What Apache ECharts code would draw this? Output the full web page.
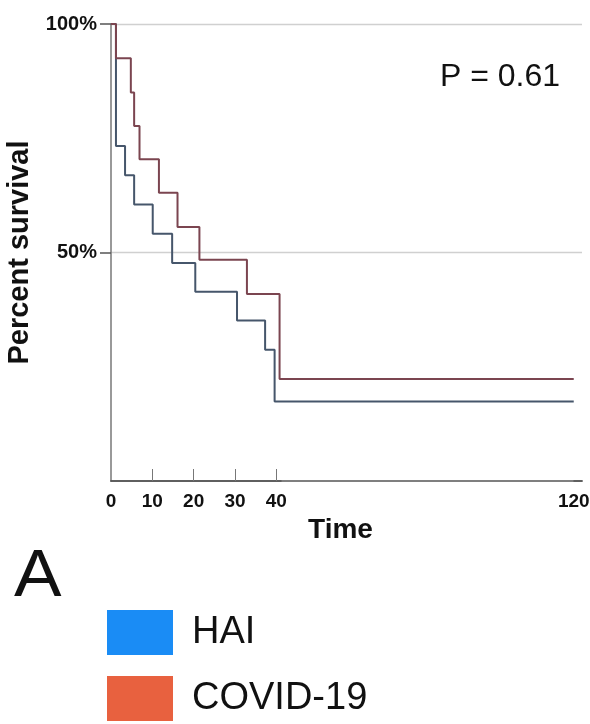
<!DOCTYPE html>
<html>
<head>
<meta charset="utf-8">
<script src="https://cdn.jsdelivr.net/npm/echarts@6.0.0/dist/echarts.min.js"></script>
<style>
  html, body { margin: 0; padding: 0; background: #fff; }
  #chart { width: 590px; height: 724px; }
</style>
</head>
<body>
<div id="chart"></div>
<script>
// survival curves (time, percent survival)
const haiTime = [0, 1.2, 3.4, 5.6, 10.1, 14.8, 20.4, 30.5, 37.3, 39.6, 120];
const haiSurv = [100, 73.3, 66.9, 60.5, 54.1, 47.7, 41.4, 35.1, 28.7, 17.4, 17.4];
const covidTime = [0, 1.2, 4.8, 5.6, 6.9, 11.6, 16.1, 21.4, 32.9, 40.8, 120];
const covidSurv = [100, 92.5, 85.0, 77.7, 70.4, 63.1, 55.6, 48.4, 40.9, 22.3, 22.3];

const xLabels = [0, 10, 20, 30, 40, 120];
const xTicks = [10, 20, 30, 40];
const yTicks = [50, 100];

const pair = (t, s) => t.map((v, i) => [v, s[i]]);

const chart = echarts.init(document.getElementById('chart'));

const option = {
  backgroundColor: '#fff',
  animation: false,
  grid: { left: 111, right: 8, top: 24, bottom: 243, outerBoundsMode: 'none' },
  legend: {
    orient: 'vertical',
    left: 107,
    top: 610,
    height: 160,
    padding: 0,
    icon: 'rect',
    itemWidth: 66,
    itemHeight: 45,
    itemGap: 21,
    textStyle: {
      fontFamily: 'Liberation Sans',
      fontSize: 38,
      color: '#111',
      padding: [0, 0, 0, 14]
    },
    data: [
      { name: 'HAI', itemStyle: { color: '#1a8cf5' } },
      { name: 'COVID-19', itemStyle: { color: '#e8613f' } }
    ]
  },
  xAxis: [
    {
      type: 'value',
      min: 0,
      max: 122,
      breaks: [{ start: 41, end: 120, gap: 71 }],
      breakArea: { show: false },
      name: 'Time',
      nameLocation: 'middle',
      nameGap: 31,
      nameTextStyle: {
        fontFamily: 'Liberation Sans', fontSize: 28, fontWeight: 'bold', color: '#111',
        padding: [0, 12, 0, 0]
      },
      axisLine: { lineStyle: { color: '#555', width: 1.5 } },
      axisTick: { inside: true, length: 12, customValues: xTicks, lineStyle: { color: '#777' } },
      axisLabel: {
        customValues: xLabels,
        margin: 11,
        fontFamily: 'Liberation Sans',
        fontSize: 19,
        fontWeight: 'bold',
        color: '#111'
      },
      splitLine: { show: false }
    },
    {
      // plain axis line drawn straight through the break
      type: 'value',
      min: 0,
      max: 1,
      position: 'bottom',
      axisLine: { show: true, onZero: false, lineStyle: { color: '#555', width: 1.5 } },
      axisTick: { show: false },
      axisLabel: { show: false },
      splitLine: { show: false }
    }
  ],
  yAxis: {
    type: 'value',
    min: 0,
    max: 100,
    interval: 50,
    name: 'Percent survival',
    nameLocation: 'middle',
    nameGap: 77,
    nameTextStyle: { fontFamily: 'Liberation Sans', fontSize: 29, fontWeight: 'bold', color: '#111' },
    axisLine: { show: true, lineStyle: { color: '#777', width: 1.5 } },
    axisTick: { show: true, length: 11, customValues: yTicks, lineStyle: { color: '#555', width: 1.5 } },
    axisLabel: {
      customValues: yTicks,
      margin: 14,
      formatter: v => v + '%',
      fontFamily: 'Liberation Sans',
      fontSize: 20,
      fontWeight: 'bold',
      color: '#111'
    },
    splitLine: { show: true, lineStyle: { color: '#d0d0d0', width: 1.3 } }
  },
  series: [
    {
      name: 'HAI',
      type: 'line',
      step: 'end',
      showSymbol: false,
      itemStyle: { color: '#1a8cf5' },
      lineStyle: { color: '#46566b', width: 2 },
      data: pair(haiTime, haiSurv)
    },
    {
      name: 'COVID-19',
      type: 'line',
      step: 'end',
      showSymbol: false,
      itemStyle: { color: '#e8613f' },
      lineStyle: { color: '#7b4550', width: 2 },
      data: pair(covidTime, covidSurv)
    }
  ],
  graphic: [
    {
      type: 'text',
      left: 440,
      top: 61,
      style: { text: 'P = 0.61', fontFamily: 'Liberation Sans', fontSize: 32, fill: '#111' }
    },
    {
      type: 'text',
      left: 14,
      top: 545,
      scaleX: 1.08,
      style: { text: 'A', fontFamily: 'Liberation Sans', fontSize: 66, fill: '#111' }
    }
  ]
};

chart.setOption(option);
</script>
</body>
</html>
